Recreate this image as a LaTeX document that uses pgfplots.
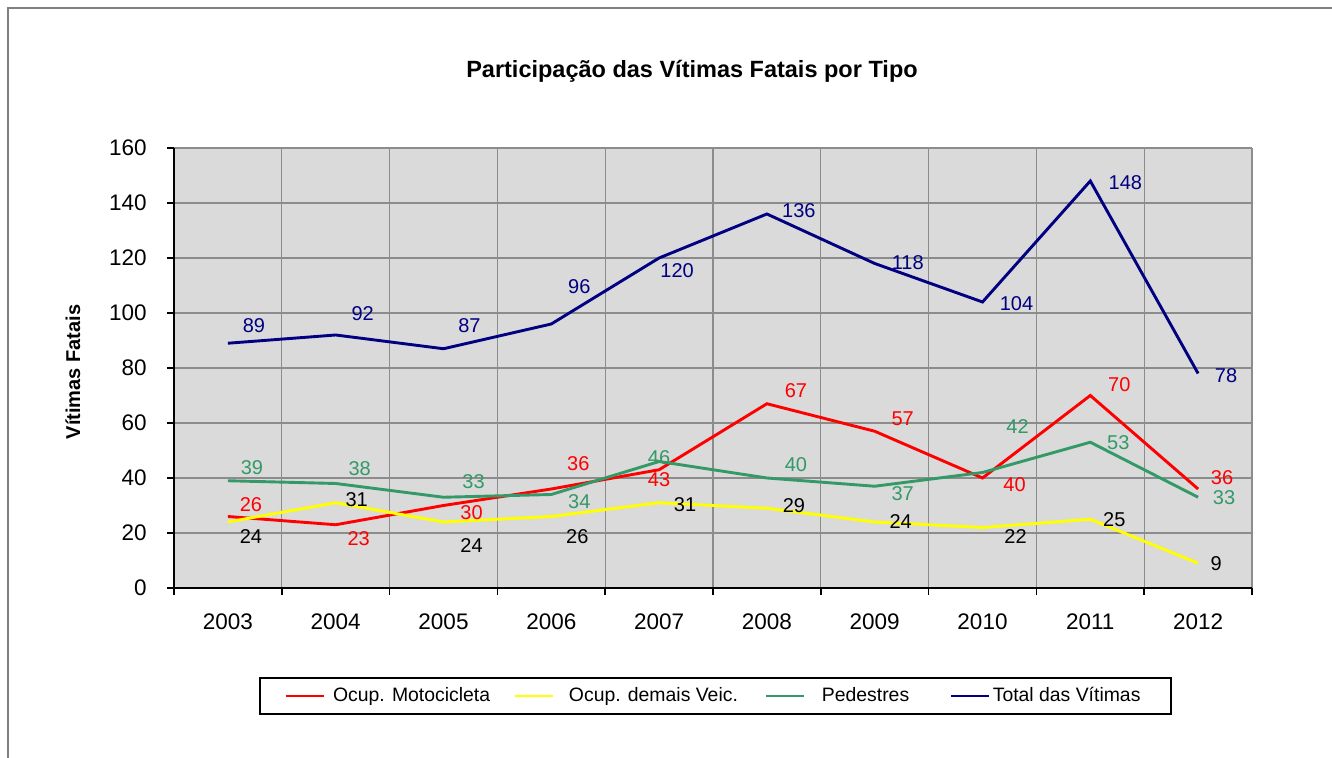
\documentclass[border=0pt]{standalone}
\usepackage{fontspec}
\setmainfont{Liberation Sans}
\usepackage{pgfplots}
\usepackage{pgfplotstable}
\pgfplotsset{compat=1.18}
\pgfplotsset{/pgf/number format/assume math mode=true}
\definecolor{mred}{RGB}{255,0,0}
\definecolor{myellow}{RGB}{255,255,0}
\definecolor{mgreen}{RGB}{51,153,102}
\definecolor{mnavy}{RGB}{0,0,128}
\definecolor{bggray}{RGB}{218,218,218}
\definecolor{gridgray}{RGB}{140,140,140}

\pgfplotstableread{
x y dx dy
0 26 11.5 6
1 23 11.5 -7
2 30 14 -3.5
3 36 13.5 12.5
4 43 0 -5
5 67 14.5 6.5
6 57 14 6.5
7 40 16 -3.5
8 70 14.5 5.5
9 36 12 5.5
}\moto

\pgfplotstableread{
x y dx dy
0 24 11.5 -7.25
1 31 10.5 1.5
2 24 14 -12
3 26 13 -10.25
4 31 13 -1
5 29 13.5 1.5
6 24 13 0
7 22 16.5 -4.75
8 25 12 0
9 9 9 0
}\demais

\pgfplotstableread{
x y dx dy
0 39 12 6.5
1 38 12 7.5
2 33 15 8
3 34 14 -3.75
4 46 0 2
5 40 14.5 6.5
6 37 14 -3.5
7 42 17.5 23
8 53 14 0
9 33 13 0
}\pedestres

\pgfplotstableread{
x y dx dy
0 89 13 9
1 92 13.5 10.5
2 87 13 11.5
3 96 14 18.5
4 120 9 -6.5
5 136 16 1.5
6 118 16.5 0.5
7 104 17 -1
8 148 17.5 -1
9 78 14 -1
}\total

\begin{document}
\begin{tikzpicture}
\useasboundingbox (-87pt,-85pt) rectangle (579pt,294pt);
\draw[gray, line width=1pt] (-82.75pt,-85pt) -- (-82.75pt,289.75pt) -- (579pt,289.75pt);
\begin{axis}[
  at={(0,0)}, anchor=south west,
  scale only axis, width=539pt, height=220pt,
  xmin=-0.5, xmax=9.5, ymin=0, ymax=160,
  axis background/.style={fill=bggray},
  axis x line*=bottom, axis y line*=left,
  axis line style={line width=1pt, black},
  tick align=outside,
  major tick length=3.5pt,
  tick style={black, line width=0.8pt},
  xtick={-0.5,0.5,...,9.5},
  x tick label as interval,
  xticklabels={2003,2004,2005,2006,2007,2008,2009,2010,2011,2012},
  ytick={0,20,...,160},
  grid=major,
  major grid style={gridgray, line width=0.6pt},
  ticklabel style={font=\fontsize{11.25}{13}\selectfont},
  yticklabel style={anchor=east, inner sep=0pt, xshift=-10pt},
  xticklabel style={anchor=north, inner sep=0pt, yshift=-9pt},
  title={Participação das Vítimas Fatais por Tipo},
  title style={at={(axis description cs:0.4805,1.1475)}, anchor=center, font=\bfseries\fontsize{11.75}{14}\selectfont},
  ylabel={Vítimas Fatais},
  ylabel style={at={(axis description cs:-0.0937,0.491)}, anchor=center, font=\bfseries\fontsize{10}{12}\selectfont},
  clip=false,
  no markers,
  legend columns=4,
  legend image code/.code={\draw[#1] (0pt,0pt) -- (19pt,0pt);},
  legend style={at={(axis description cs:0.5023,-0.2455)}, anchor=center,
    draw=black, line width=0.8pt, fill=white,
    font=\fontsize{9.7}{12}\selectfont,
    inner xsep=12pt, inner ysep=4.8pt,
    nodes={inner sep=0pt, anchor=west},
    column sep=0pt,
    /tikz/every even column/.append style={column sep=0pt}},
  nodes near coords,
  point meta=y,
  visualization depends on={\thisrow{dx} \as \ldx},
  visualization depends on={\thisrow{dy} \as \ldy},
  nodes near coords style={anchor=center, inner sep=0pt, xshift=\ldx pt, yshift=\ldy pt, font=\fontsize{10}{12}\selectfont},
]
\addplot[mred, line width=1.45pt, nodes near coords style={text=mred}] table[x=x,y=y] {\moto};
\addlegendentry{\makebox[94pt][l]{\hspace{4pt}Ocup. Motocicleta}}
\addplot[myellow, line width=1.45pt, nodes near coords style={text=black}] table[x=x,y=y] {\demais};
\addlegendentry{\makebox[105.5pt][l]{\hspace{7.5pt}Ocup. demais Veic.}}
\addplot[mgreen, line width=1.45pt, nodes near coords style={text=mgreen}] table[x=x,y=y] {\pedestres};
\addlegendentry{\makebox[72pt][l]{\hspace{8pt}Pedestres}}
\addplot[mnavy, line width=1.45pt, nodes near coords style={text=mnavy}] table[x=x,y=y] {\total};
\addlegendentry{\makebox[78pt][l]{\hspace{1pt}Total das Vítimas}}
\end{axis}
\end{tikzpicture}
\end{document}
